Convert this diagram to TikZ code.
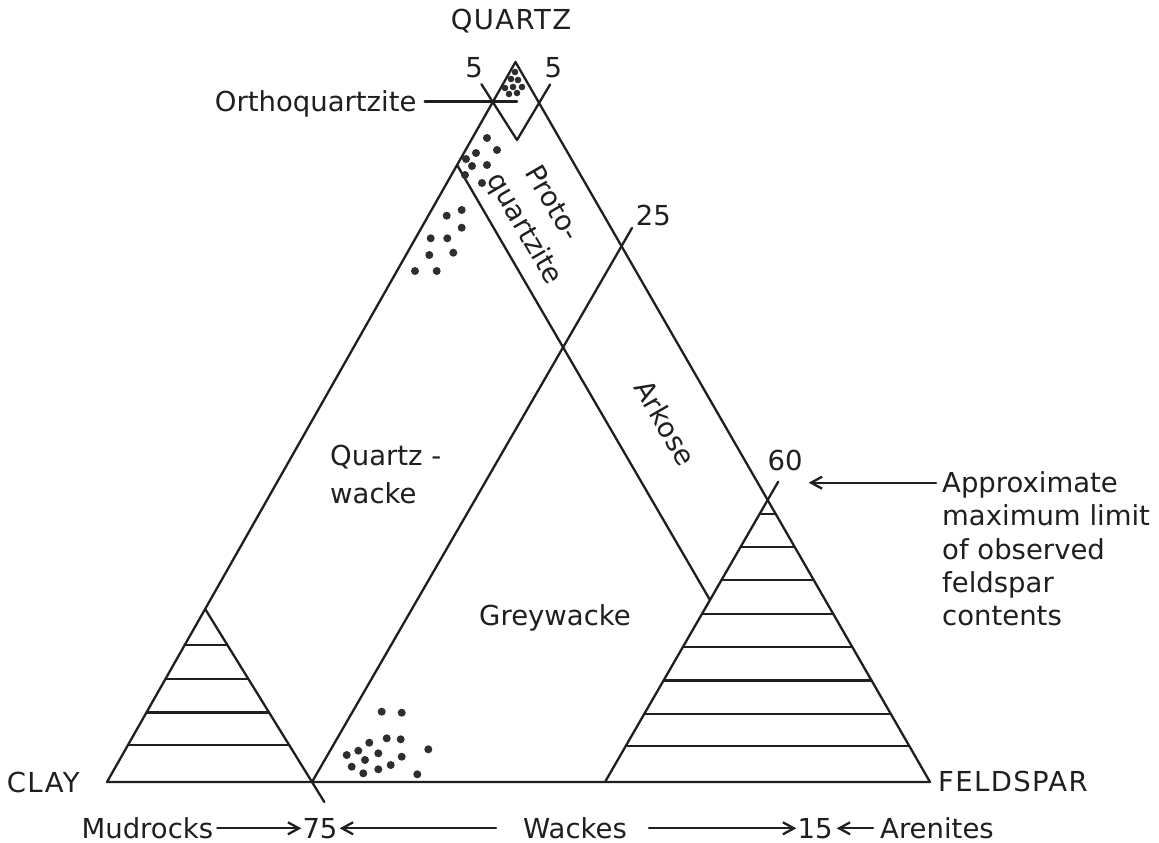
\documentclass[tikz,border=0pt]{standalone}
\usepackage{fontspec}
\setmainfont{DejaVu Sans}
\newfontfamily\capsfont[LetterSpace=5]{DejaVu Sans}
\usetikzlibrary{arrows.meta,calc}
\begin{document}
\begin{tikzpicture}[x=1pt,y=-1pt,
  ink/.style={line width=2.3pt,draw=black!88,line cap=round,line join=round},
  lblf/.style={font=\fontsize{27.5}{34}\selectfont,text=black!88,inner sep=0pt},
  lbl/.style={lblf,text height=20pt,text depth=0pt},
  caps/.style={lbl,font=\capsfont\fontsize{27.5}{31}\selectfont},
  arr/.style={ink,-{Straight Barb[length=11pt,width=12pt,line width=2.3pt]}},
  dotst/.style={fill=black!82,draw=none}]
\useasboundingbox (0,0) rectangle (1159,843);
\fill[white] (0,0) rectangle (1159,843);
% main triangle
\coordinate (Q) at (515.5,62);
\coordinate (C) at (107,782);
\coordinate (F) at (930,782);
\draw[ink] (Q) -- (C) -- (F) -- cycle;
% orthoquartzite V with 5 % ticks
\coordinate (L5) at ($(Q)!0.0556!(C)$);
\coordinate (R5) at ($(Q)!0.0569!(F)$);
\coordinate (V) at (517,140);
\coordinate (L5e) at ($(V)!1.47!(L5)$);
\coordinate (R5e) at ($(V)!1.5!(R5)$);
\draw[ink] (L5e) -- (V) -- (R5e);
% protoquartzite / arkose boundary
\coordinate (P1) at ($(Q)!0.143!(C)$);
\coordinate (FL) at (605,782);
\coordinate (FA) at ($(F)!0.39167!(Q)$);
\coordinate (P2) at ($(FL)!0.6454!(FA)$);
\draw[ink] (P1) -- (P2);
% feldspar triangle with 60 tick
\coordinate (FT) at ($(FL)!1.065!(FA)$);
\draw[ink] (FL) -- (FT);
\foreach \yy in {514,547,580,614,647,680.5,714,746}{
  \pgfmathsetmacro\tt{(782-\yy)/282}
  \draw[ink] ($(FL)!\tt!(FA)$) -- ($(F)!\tt!(FA)$);
}
% 25 line
\coordinate (B25) at (312,782);
\coordinate (T25) at (632,228);
\draw[ink] (B25) -- (T25);
% clay triangle with 75 tick
\coordinate (CA) at ($(Q)!0.7597!(C)$);
\coordinate (CE) at ($(CA)!1.1156!(B25)$);
\draw[ink] (CA) -- (CE);
\foreach \yy in {645,679,712.5,745}{
  \pgfmathsetmacro\tt{(782-\yy)/173}
  \draw[ink] ($(C)!\tt!(CA)$) -- ($(B25)!\tt!(CA)$);
}
% dots
\foreach \x/\y in {515/72,511/79,518/80,522/87,505/88,513/87,509/94,517/93}
  \fill[dotst] (\x,\y) circle (3.3pt);
\foreach \x/\y in {487/138,497/150,476/153,466/159,472/166,487/165,465/175,482/183}
  \fill[dotst] (\x,\y) circle (4pt);
\foreach \x/\y in {446.7/215.7,461.7/210,461.7/227.7,430.7/238.3,447.3/238.3,429.3/255,453.3/252.7,415/271,436.7/271}
  \fill[dotst] (\x,\y) circle (4pt);
\foreach \x/\y in {381.7/711.7,401.7/712.7,386.7/738.3,400.7/739.3,369.3/742.7,358.3/750.7,346.7/755,378.3/753.3,401.7/756.7,428.3/749.3,365/760,351.7/766.7,390.7/765,378.3/769.3,363.3/773.3,417.3/774.3}
  \fill[dotst] (\x,\y) circle (4pt);
% labels
\node[caps] (quartz) at (511,20) {QUARTZ};
\node[lbl] (l5) at (474,67.3) {5};
\node[lbl] (r5) at (553.3,67.3) {5};
\node[lbl,anchor=east] (ortho) at (416.7,101.5) {Orthoquartzite};
\draw[ink] ([xshift=8pt]ortho.east) -- (ortho.east -| V);
\node[lbl,rotate=-60] (proto1) at (554,203) {Proto-};
\node[lbl,rotate=-60] (proto2) at (526,228) {quartzite};
\node[lbl] (n25) at (653.3,215) {25};
\node[lbl,rotate=-60] (arkose) at (665,423) {Arkose};
\node[lbl] (n60) at (785,460) {60};
\node[lbl,anchor=west] (ap1) at (942,482.7) {Approximate};
\node[lbl,anchor=west] (ap2) at (942,515.5) {maximum limit};
\node[lbl,anchor=west] (ap3) at (942,549) {of observed};
\node[lbl,anchor=west] (ap4) at (942,582) {feldspar};
\node[lbl,anchor=west] (ap5) at (942,615.7) {contents};
\draw[arr] ([xshift=-6pt]ap1.west) -- ([xshift=6pt]n60.east |- ap1.west);
\node[lbl,anchor=west] (qw1) at (330,455) {Quartz -};
\node[lbl,anchor=west] (qw2) at (330,493.3) {wacke};
\node[lbl] (grey) at (555,615) {Greywacke};
\node[caps,anchor=west] (clay) at (6.7,782.7) {CLAY};
\node[caps,anchor=west] (feld) at (938,781.7) {FELDSPAR};
% bottom row
\node[lbl,anchor=east] (mud) at (213.3,828.3) {Mudrocks};
\node[lbl] (n75) at (320,828.3) {75};
\node[lbl] (wackes) at (575,828.3) {Wackes};
\node[lbl] (n15) at (815,828.3) {15};
\node[lbl,anchor=west] (aren) at (880,828.3) {Arenites};
\draw[arr] ([xshift=4pt]mud.east) -- ([xshift=-1pt]n75.west);
\draw[arr] ([xshift=-27pt]wackes.west) -- ([xshift=2pt]n75.east);
\draw[arr] ([xshift=22pt]wackes.east) -- ([xshift=-1pt]n15.west);
\draw[arr] ([xshift=-7pt]aren.west) -- ([xshift=4pt]n15.east);
\end{tikzpicture}
\end{document}
